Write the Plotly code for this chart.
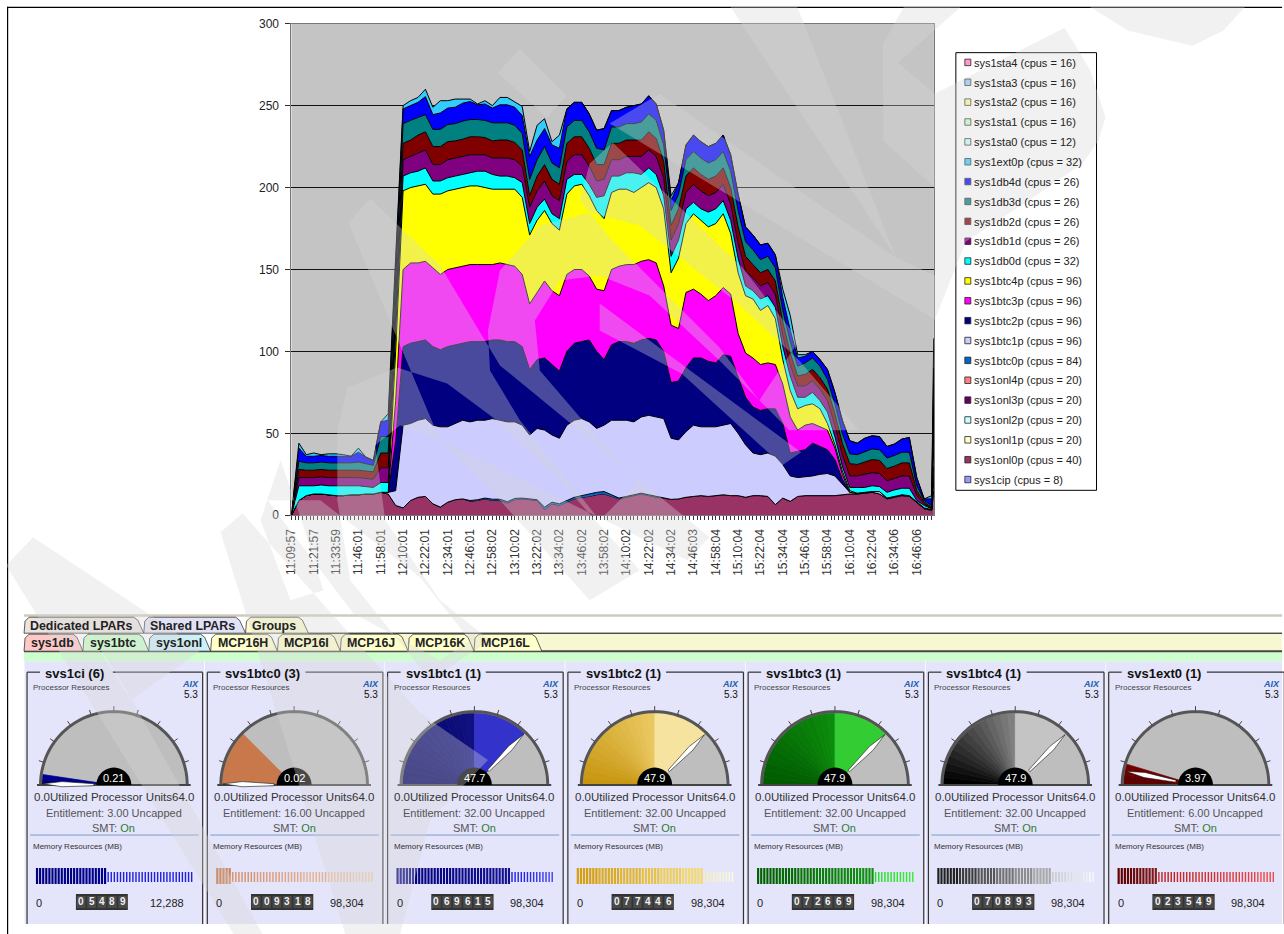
import numpy as np
import plotly.graph_objects as go

W, H = 1284, 934
FONT = "Liberation Sans"

# ---------- chart data ----------
tick_labels = ["11:09:57","11:21:57","11:33:59","11:46:01","11:58:01","12:10:01","12:22:01","12:34:01","12:46:01","12:58:02",
               "13:10:02","13:22:02","13:34:02","13:46:02","13:58:02","14:10:02","14:22:02","14:34:02","14:46:03","14:58:04",
               "15:10:04","15:22:04","15:34:04","15:46:04","15:58:04","16:10:04","16:22:04","16:34:06","16:46:06"]
sample_x = [i * 2 for i in range(87)] + [172.55]

top_onl0p = [0,9,12,13,13,12.5,12,12,12.5,12.5,
             13,13,14,13,6,4.5,9,11,11.5,7,
             5,8,9.5,10,8.5,9,10,9,9,7.5,
             9.5,10,9.5,9,3.5,7,6,8,10,11,
             11.5,12.5,13,11.5,10,11,12,13,12,11,
             10.5,9.7,10,11,11.5,12,11.5,12,12.5,12,
             12,11,12,12,11.5,6.5,10.5,8.5,11.5,12,
             12,12,12,12,12.5,13,13,13.5,14,13,
             10,11,12,11.5,8,4,3,15]
btc0p_values = [0,0,0,0,0,0,0,0,0,0,
                0,0,0,0,0,0,0,0,0,0,
                0,0,0,0,0.5,0.5,0.5,0.8,0.8,0.8,
                0.8,0.5,0.5,0.5,1.5,1,1,0.8,1,1,
                1.5,1.5,1.5,1,0.5,0.5,0.5,0.5,0.5,0.5,
                0,0,0,0,0,0,0,0,0,0,
                0,0,0,0,0,0,0,0,0,0,
                0,0,0,0,0,0,0,0,0,0,
                0,0,0,0,0,0,0,0]
top_btc1p = [0,0,0,0,0,0,0,0,0,0,
             0,0,0,14,15,55,56,58,59,55,
             54,54,56,58,57,58,58,59,58,57,
             57,55,49,53,52,49,47,55,58,59,
             57,53,55,58,58,58,57,60,61,60,
             59,47,46,51,55,54,54,54,55,56,
             50,43,38,37,38,36,31,24,23,23.5,
             24,25,25.5,24,19,14,13.5,14,14.5,14.5,
             10.5,11.5,12.5,12,8.5,4.5,3.5,20]
top_btc2p = [0,0,0,0,0,0,0,0,0,0,
             0,0,0,0,45,103,105,106,107,103,
             101,103,104,105,106,106,106,107,107,106,
             106,103,89,95,96,92,88,100,105,106,
             107,100,95,104,106,106,105,107,108,107,
             100,81,82,90,96,96,94,93,98,97,
             84,72,66,64,65,65,56,38,39,40,
             44,42,40,34,22,14,0,0,0,0,
             0,0,0,0,0,0,0,25]
top_btc3p = [0,0,0,0,0,0,0,0,0,0,
             0,0,0,0,70,150,154,154,155,151,
             147,150,151,152,153,153,153,153,154,153,
             152,147,129,136,143,137,134,147,150,150,
             146,138,137,150,152,153,153,155,156,154,
             140,116,114,136,138,135,131,134,139,135,
             111,99,96,92,93,92,80,60,52,55,
             56,54,52,41,25,14,0,0,0,0,
             0,0,0,0,0,0,0,30]
top_btc4p = [0,0,0,0,0,0,0,0,0,0,
             0,0,0,0,100,198,200,201,202,196,
             196,198,199,200,201,201,200,199,199,199,
             199,194,171,180,186,178,174,196,201,202,
             195,186,181,197,199,199,197,200,203,200,
             187,148,157,178,184,180,176,178,184,172,
             148,134,132,125,128,120,95,76,65,67,
             68,65,56,43,27,15,0,0,0,0,
             0,0,0,0,0,0,0,40]
top_db0d = [0,18,18,18,18.5,18,18,18,18,18,
            17.5,17,20,20,112,207,209,210,212,204,
            204,206,207,208,209,210,210,208,207,207,
            206,203,178,188,193,184,181,205,208,208,
            202,194,195,207,207,209,209,208,212,208,
            195,158,168,187,191,187,185,187,192,180,
            157,140,137,132,134,127,103,85,72,72,
            75,70,63,48,30,17,17,17,18,17.5,
            14,15.5,16.5,16.5,9,6,4,50]
db1d_values = [0,5,5,5,5,5,5,5,5,5,
               5,5,9,9,10,10,10,11,11,10,
               10,11,11,11,11,10,10,10,11,11,
               11,10,10,10,11,11,11,11,12,12,
               11,10,10,10,10,10,10,11,11,11,
               11,10,10,10,11,11,10,10,10,10,
               9,9,8,8,8,8,7,7,7,7,
               7,7,7,7,7,7,7,8,8,8,
               7,7,7.5,7.5,3,1,0,10]
db2d_values = [0,5,4.5,4.5,4.5,4.5,4.5,4.5,4.5,4.5,
               4.5,4.5,9,9,10,10,10,11,11,11,
               11,11,10.5,10.5,11,11,10.5,10.5,11,11,
               10.5,10,7,9,10,10,10,11,11,11,
               11,10,9,10,10,10,10,10,11,11,
               10,9,9,10,10,10,10,10,10,10,
               10,9,8,8,8,8,8,7,6,7,
               7,7,7,7,7,7.5,7,7.5,8,8,
               7.5,7.5,8,8,3,1,1,10]
db3d_values = [0,5,4.5,4.5,4.5,4.5,4.5,4.5,4.5,5,
               4.5,4,10,10,11,12,12,11,10.5,10.5,
               10.5,10.5,10.5,11,10.5,10.5,10.5,11,10.5,10.5,
               10.5,10,10,10,11,10,10,10,10,10,
               10,10,9,10,10,10,10,11,11,11,
               10,9,9,10,10,10,10,10,10,10,
               10,9,9,8,8,8,7,7,6,7,
               7,7,6,6,6,6,6,6.5,6.5,6.5,
               6.5,6.5,6.5,6.5,3,1,1,10]
db4d_values = [0,8,4,4,4,4,4,4,4,6,
               4,3,9,10,15,9,9,9,11,9,
               10,10,10,11,11,9,10,9,11,11,
               11,11,14,12,11,11,12,11,11,11,
               11,11,13,10,10,10,11,11,11,10,
               9,6,7,9,10,10,10,10,10,10,
               10,9,9,9,8,8,8,7,5,4,
               4,4,6,7,8,8,7,8,8,8,
               7,7,8,9,5,1,4,10]
top_total = [0,44,37,38,37,37.5,37.5,37,35,41,
             34,32,57,62,150,250,253,255,260,249,
             253,253,254,254,254,251,253,250,255,255,
             252,249.5,222,238,242,228,232,247,249,252,
             243,230,225,243,246,245,241,250,252,251,
             235,195,198,219,225,220,219,221,224,215,
             194,168,166,155,157,157,138,122,98,98,
             99,94,87,70,50,39,38,40,44,42,
             37,37,45,46,22,10,12,108]
zero_values = [0] * 88

series_names = ["sys1sta4 (cpus = 16)","sys1sta3 (cpus = 16)","sys1sta2 (cpus = 16)","sys1sta1 (cpus = 16)","sys1sta0 (cpus = 12)",
                "sys1ext0p (cpus = 32)","sys1db4d (cpus = 26)","sys1db3d (cpus = 26)","sys1db2d (cpus = 26)","sys1db1d (cpus = 26)",
                "sys1db0d (cpus = 32)","sys1btc4p (cpus = 96)","sys1btc3p (cpus = 96)","sys1btc2p (cpus = 96)","sys1btc1p (cpus = 96)",
                "sys1btc0p (cpus = 84)","sys1onl4p (cpus = 20)","sys1onl3p (cpus = 20)","sys1onl2p (cpus = 20)","sys1onl1p (cpus = 20)",
                "sys1onl0p (cpus = 40)","sys1cip (cpus = 8)"]
series_colors = ["#FF99CC","#99CCFF","#FFFF99","#CCFFCC","#CCFFFF","#33CCFF","#0000FF","#008080","#800000","#800080",
                 "#00FFFF","#FFFF00","#FF00FF","#000080","#CCCCFF","#0066CC","#FF8080","#660066","#CCFFFF","#FFFFCC",
                 "#993366","#9999FF"]

# ---------- gauge card data ----------
card_names = ["svs1ci (6)","svs1btc0 (3)","svs1btc1 (1)","svs1btc2 (1)","svs1btc3 (1)","svs1btc4 (1)","svs1ext0 (1)"]
card_used = [0.21,0.02,47.7,47.9,47.9,47.9,3.97]
card_entitlement = [3.00,16.00,32.00,32.00,32.00,32.00,6.00]
card_mem = [5489,9318,69615,77446,72669,70893,23549]
card_mem_max = [12288,98304,98304,98304,98304,98304,98304]
card_counter = ["05489","009318","069615","077446","072669","070893","023549"]
card_dark = [("#000070","#000090"),("#C8784A","#C8784A"),("#000060","#101080"),("#C89610","#EAC860"),("#005A00","#0C8C0C"),("#000000","#808080"),("#600000","#700000")]
card_light = ["#2020E0","#C8784A","#3333CC","#F6E3A0","#33CC33","#C4C4C4","#700000"]
card_bar_on = [("#000080","#000090"),("#C06838","#D08858"),("#000080","#101090"),("#D4A010","#F2D870"),("#006000","#109010"),("#202020","#A8A8A8"),("#600000","#801818")]
card_bar_off = [("#2020E0","#2020E0"),("#D89068","#F0C8A8"),("#2020E0","#4040F0"),("#F6EDB0","#FFFBE0"),("#20E020","#30F030"),("#C8C8C8","#FAFAFA"),("#C02020","#F04848")]

tabs_row1 = ["Dedicated LPARs","Shared LPARs","Groups"]
tabs_row1_x = [23,143,245,308]
tabs_row1_fill = ["#ECE4E0","#E2E2F6","#FCFCD0"]
tabs_row2 = ["sys1db","sys1btc","sys1onl","MCP16H","MCP16I","MCP16J","MCP16K","MCP16L"]
tabs_row2_x = [23,82,148,210,277,340,408,474,542]
tabs_row2_fill = ["#FFC8C8","#CCFFCC","#CCF0F8","#FFFFCC","#FFFFCC","#FFFFCC","#FFFFCC","#FFFFCC"]

# ---------- watermark outline (page pixels) ----------
watermark = [
    [(32,537),(5,565),(233,934),(262,934),(120,680),(68,602)],
    [(32,537),(147,613),(200,650),(130,700),(68,602)],
    [(242,513),(420,713),(488,760),(430,820),(400,934),(345,934),(220,532)],
    [(267,500),(320,500),(420,577),(470,640),(440,660),(353,613)],
    [(337,430),(347,387),(397,367),(447,383),(493,417),(560,480),(640,570),(590,600),(500,500),(440,440),(400,425),(375,445),(385,520),(440,600),(490,640),(430,680),(350,580),(337,500)],
    [(280,460),(300,517),(323,590),(290,600),(260,520)],
    [(488,330),(500,270),(540,225),(590,212),(640,225),(735,300),(800,360),(860,430),(790,430),(720,360),(650,295),(600,275),(560,280),(535,320),(540,370),(600,440),(640,480),(600,520),(520,420),(490,370)],
    [(370,198),(440,265),(500,365),(710,537),(688,560),(440,440),(348,222)],
    [(600,303),(650,340),(802,452),(783,465),(682,373),(600,330)],
    [(520,48),(567,95),(547,117),(498,72)],
    [(590,163),(613,142),(743,267),(800,340),(760,400),(720,347),(610,237),(580,200)],
    [(660,93),(897,257),(936,275),(936,319),(610,123)],
    [(731,6),(798,6),(897,257)],
    [(905,6),(962,6),(899,62),(936,93),(936,187),(884,140),(884,43)],
    [(936,93),(1066,27),(1092,70),(1107,117),(1100,140),(1084,163),(1030,200),(967,241),(936,319)],
    [(1091,6),(1130,30),(1194,45),(1225,30),(1247,6)],
]

# ---------- helpers ----------
# the page draws the figure with a small inset; these undo it so page pixels land where they should
def fx(x):
    return (x - 5.9) / 0.9969 / W

def fy(y):
    return 1 - (y - 6.3) / 0.9858 / H

def pt(x, y):
    return f"{fx(x):.5f},{fy(y):.5f}"

def poly_path(points, close=True):
    return "M " + " L ".join(pt(x, y) for x, y in points) + (" Z" if close else "")

shapes, notes = [], []

def add_poly(points, fill=None, line=None, width=0, close=True, layer="above"):
    d = dict(type="path", xref="paper", yref="paper", layer=layer, path=poly_path(points, close), line=dict(width=width, color=line or "rgba(0,0,0,0)"))
    if fill:
        d["fillcolor"] = fill
    shapes.append(d)

def add_rect(x0, y0, x1, y1, fill=None, line=None, width=0, layer="above"):
    add_poly([(x0,y0),(x1,y0),(x1,y1),(x0,y1)], fill, line, width, True, layer)

def add_line(x0, y0, x1, y1, color, width=1, layer="above"):
    add_poly([(x0,y0),(x1,y1)], None, color, width, False, layer)

def add_text(x, y, text, size=11, color="#222222", anchor="center", bold=False, italic=False, family=FONT):
    if bold:
        text = f"<b>{text}</b>"
    if italic:
        text = f"<i>{text}</i>"
    notes.append(dict(xref="paper", yref="paper", x=fx(x), y=fy(y), text=text, showarrow=False, xanchor=anchor, yanchor="middle",
                      font=dict(family=family, size=size, color=color), borderpad=0, borderwidth=0))

def mix(c0, c1, t):
    a = [int(c0[i:i+2], 16) for i in (1,3,5)]
    b = [int(c1[i:i+2], 16) for i in (1,3,5)]
    return "#" + "".join(f"{round(u+(v-u)*t):02X}" for u, v in zip(a, b))

def polar(cx, cy, r, deg):
    a = np.radians(deg)
    return (cx - r*np.cos(a), cy - r*np.sin(a))

def wedge(cx, cy, r, d0, d1, n=None):
    n = n or max(2, int(abs(d1-d0)/3)+1)
    return [(cx,cy)] + [polar(cx,cy,r,d) for d in np.linspace(d0,d1,n)]

def signed_area(p):
    return sum(p[i][0]*p[(i+1)%len(p)][1] - p[(i+1)%len(p)][0]*p[i][1] for i in range(len(p)))

# ---------- stacked series ----------
tops = np.array([top_onl0p, top_btc1p, top_btc2p, top_btc3p, top_btc4p, top_db0d], dtype=float)
tops = np.maximum.accumulate(tops, axis=0)
onl0p = tops[0]
btc0p = np.array(btc0p_values, dtype=float)
btc1p = np.maximum(tops[1] - tops[0] - btc0p, 0)
btc2p = np.maximum(tops[2] - np.maximum(tops[1], tops[0] + btc0p), 0)
btc3p = tops[3] - tops[2]
btc4p = tops[4] - tops[3]
db0d = tops[5] - tops[4]
stack_below = tops[5] + np.array(db1d_values) + np.array(db2d_values) + np.array(db3d_values) + np.array(db4d_values)
ext0p = np.maximum(np.array(top_total, dtype=float) - stack_below, 0)

series_values = {
    "sys1cip (cpus = 8)": zero_values,
    "sys1onl0p (cpus = 40)": onl0p,
    "sys1onl1p (cpus = 20)": zero_values,
    "sys1onl2p (cpus = 20)": zero_values,
    "sys1onl3p (cpus = 20)": zero_values,
    "sys1onl4p (cpus = 20)": zero_values,
    "sys1btc0p (cpus = 84)": btc0p,
    "sys1btc1p (cpus = 96)": btc1p,
    "sys1btc2p (cpus = 96)": btc2p,
    "sys1btc3p (cpus = 96)": btc3p,
    "sys1btc4p (cpus = 96)": btc4p,
    "sys1db0d (cpus = 32)": db0d,
    "sys1db1d (cpus = 26)": db1d_values,
    "sys1db2d (cpus = 26)": db2d_values,
    "sys1db3d (cpus = 26)": db3d_values,
    "sys1db4d (cpus = 26)": db4d_values,
    "sys1ext0p (cpus = 32)": ext0p,
    "sys1sta0 (cpus = 12)": zero_values,
    "sys1sta1 (cpus = 16)": zero_values,
    "sys1sta2 (cpus = 16)": zero_values,
    "sys1sta3 (cpus = 16)": zero_values,
    "sys1sta4 (cpus = 16)": zero_values,
}
color_of = dict(zip(series_names, series_colors))

fig = go.Figure()
for name, vals in series_values.items():
    is_zero = vals is zero_values
    fig.add_trace(go.Scatter(x=sample_x, y=list(vals), name=name, mode="lines", stackgroup="one",
                             fillcolor=color_of[name], line=dict(color="#000000", width=0 if is_zero else 1, shape="linear"),
                             showlegend=False, hoverinfo="skip"))

# ---------- page frame ----------
add_line(6.5, 6, 6.5, 934, "#000000", 1.2)
add_line(6, 6.6, 1284, 6.6, "#000000", 1.2)

# ---------- legend ----------
add_rect(957, 52, 1098, 490, "#FFFFFF", "#000000", 1)
for i, (nm, col) in enumerate(zip(series_names, series_colors)):
    y = 62 + i * 19.88
    add_rect(966, y-3.5, 972, y+3, col, "#222222", 0.8)
    add_text(975, y, nm, size=11, color="#222222", anchor="left")

# ---------- tabs ----------
add_rect(23, 614, W, 616.5, "#CFCBBB")
add_rect(308, 633, W, 651, "#F7F7D2")
add_line(308, 633, W, 633, "#000000", 1)
add_rect(23, 652, W, 661, "#CCFFCC")
add_line(23, 651, W, 651, "#444444", 2)

def tab(x0, x1, y0, y1, fill):
    add_poly([(x0,y1),(x0+1,y0+4),(x0+5,y0),(x1-10,y0),(x1-6,y0+3),(x1,y1)], fill, "#333333", 0.8)

for i, t in enumerate(tabs_row1):
    tab(tabs_row1_x[i], tabs_row1_x[i+1], 617, 633, tabs_row1_fill[i])
    add_text(tabs_row1_x[i]+6, 626, t, size=12.4, color="#222222", anchor="left", bold=True)
for i, t in enumerate(tabs_row2):
    tab(tabs_row2_x[i], tabs_row2_x[i+1], 634, 651, tabs_row2_fill[i])
    add_text(tabs_row2_x[i]+7, 642.5, t, size=12.4, color="#222222", anchor="left", bold=True)

# ---------- gauge cards ----------
pitch = 180.7
for i, nm in enumerate(card_names):
    fx0 = 26 + pitch * i
    fx1 = min(fx0 + 176, W + 4)
    cx = fx0 + 87
    cy = 785
    add_rect(fx0-2.5, 661, min(fx0+177.5, W), 924, "#E4E4FA")
    title_w = 6.2 * len(nm)
    add_line(fx0, 924, fx0, 672, "#333333", 1.2)
    add_line(fx0, 672, fx0+13, 672, "#333333", 1.2)
    add_line(fx0+19+title_w+5, 672, fx1, 672, "#333333", 1.2)
    add_line(fx1, 672, fx1, 924, "#333333", 1.2)
    add_text(fx0+18, 673, nm, size=13, color="#111111", anchor="left", bold=True)
    add_text(fx0+6, 687, "Processor Resources", size=8, color="#444444", anchor="left")
    add_text(fx1-4, 684, "AIX", size=9, color="#2060B0", anchor="right", bold=True, italic=True)
    add_text(fx1-5, 694, "5.3", size=10, color="#111111", anchor="right")

    # gauge: angles come from the 0-64 scale
    used_deg = card_used[i] / 64 * 180
    ent_deg = card_entitlement[i] / 64 * 180
    add_poly(wedge(cx, cy, 72, 0, 180, 61), "#BEBEBE")
    slices = max(2, int(ent_deg / 6))
    edges = np.linspace(0, ent_deg, slices + 1)
    for s in range(slices):
        c = mix(card_dark[i][0], card_dark[i][1], s / max(1, slices-1))
        add_poly(wedge(cx, cy, 72, edges[s], edges[s+1]), c, c, 0.7)
    if used_deg > ent_deg:
        add_poly(wedge(cx, cy, 72, ent_deg, used_deg), card_light[i], card_light[i], 0.5)
    add_poly([polar(cx, cy, 73.5, d) for d in np.linspace(0, 180, 61)], None, "#555555", 3, False)
    for d in range(18, 180, 18):
        a = polar(cx, cy, 74, d); b = polar(cx, cy, 79, d)
        add_line(a[0], a[1], b[0], b[1], "#444444", 1)
    add_line(cx-77, cy, cx+77, cy, "#444444", 2)
    nd = max(used_deg, 1.0)
    tip = polar(cx, cy, 71, nd)
    ua = np.radians(nd)
    ux, uy = -np.cos(ua), -np.sin(ua)
    nx, ny = -uy, ux
    pts = [tip]
    for r, w in [(52, 2.6), (20, 1.0)]:
        pts.append((cx+ux*r+nx*w, cy+uy*r+ny*w))
    for r, w in [(20, 1.0), (52, 2.6)]:
        pts.append((cx+ux*r-nx*w, cy+uy*r-ny*w))
    add_poly(pts, "#FFFFFF", "#111111", 0.6)
    add_poly(wedge(cx, cy, 17.5, 0, 180, 25), "#000000")
    add_text(cx, 778, f"{card_used[i]:g}", size=11, color="#FFFFFF")

    add_text(cx, 797, "0.0Utilized Processor Units64.0", size=11.5, color="#333333")
    add_text(cx, 813, f"Entitlement: {card_entitlement[i]:.2f} Uncapped", size=11, color="#555555")
    add_text(cx, 828, 'SMT: <span style="color:#2E7D32">On</span>', size=11, color="#555555")
    add_line(fx0+3, 835, fx1-4, 835, "#7A9CC8", 1)
    add_text(fx0+6, 846, "Memory Resources (MB)", size=8, color="#333333", anchor="left")

    # memory stripes: the filled share comes from memory value / maximum
    bx0, bx1 = fx0+10, fx0+168
    frac = card_mem[i] / card_mem_max[i]
    split = bx0 + (bx1-bx0) * frac
    xs = np.arange(bx0, bx1, 3.1)
    buckets = 6
    for b in range(buckets):
        on_d, off_d = [], []
        for x in xs:
            if x <= split:
                t = (x-bx0)/max(split-bx0, 1)
                if min(int(t*buckets), buckets-1) == b:
                    on_d.append(f"M {pt(x,868)} L {pt(x,884)}")
            else:
                t = (x-split)/max(bx1-split, 1)
                if min(int(t*buckets), buckets-1) == b:
                    off_d.append(f"M {pt(x,872)} L {pt(x,882)}")
        if on_d:
            shapes.append(dict(type="path", xref="paper", yref="paper", layer="above", path=" ".join(on_d),
                               line=dict(color=mix(card_bar_on[i][0], card_bar_on[i][1], b/(buckets-1)), width=2.2)))
        if off_d:
            shapes.append(dict(type="path", xref="paper", yref="paper", layer="above", path=" ".join(off_d),
                               line=dict(color=mix(card_bar_off[i][0], card_bar_off[i][1], b/(buckets-1)), width=1.4)))

    add_text(fx0+12, 903, "0", size=11, color="#222222")
    add_text(fx0+140, 903, f"{card_mem_max[i]:,}", size=11, color="#222222")
    digits = card_counter[i]
    cw = 10.4
    bw = cw * len(digits)
    ccx = fx0 + 75
    add_rect(ccx-bw/2, 894, ccx+bw/2, 910, "#333333")
    for j, ch in enumerate(digits):
        x0 = ccx - bw/2 + j*cw
        add_rect(x0+0.8, 896, x0+cw-0.8, 908, "#4A4A4A")
        add_text(x0+cw/2, 902, ch, size=10, color="#F0F0F0", bold=True)

# ---------- watermark: one path, same winding, so overlaps do not darken ----------
wm_parts = []
for poly in watermark:
    p = poly if signed_area(poly) > 0 else poly[::-1]
    wm_parts.append(poly_path(p))
shapes.append(dict(type="path", xref="paper", yref="paper", layer="above", path=" ".join(wm_parts),
                   fillcolor="rgba(215,215,215,0.34)", line=dict(width=0)))

xa_tick = list(range(0, 169, 6))
fig.update_layout(
    width=W, height=H, autosize=False,
    margin=dict(l=0, r=0, t=0, b=0, pad=0),
    paper_bgcolor="#FFFFFF", plot_bgcolor="#C4C4C4",
    showlegend=False,
    font=dict(family=FONT, size=11, color="#222222"),
    xaxis=dict(domain=[fx(291), fx(935)], range=[0, 172.6], tickmode="array", tickvals=xa_tick, ticktext=tick_labels,
               tickangle=-90, ticks="outside", ticklen=4, tickcolor="#333333", showgrid=False, zeroline=False,
               showline=True, linecolor="#777777", linewidth=1, mirror=True, ticklabelstandoff=4,
               tickfont=dict(family=FONT, size=12, color="#333333"),
               minor=dict(ticks="outside", ticklen=4, dtick=1, tickcolor="#333333", showgrid=False)),
    yaxis=dict(domain=[fy(515), fy(23)], range=[0, 300], tickmode="array", tickvals=[0,50,100,150,200,250,300],
               ticks="outside", ticklen=5, tickcolor="#333333", showgrid=True, gridcolor="#111111", gridwidth=1, zeroline=False,
               showline=True, linecolor="#777777", linewidth=1, mirror=True, ticklabelstandoff=4,
               tickfont=dict(family=FONT, size=12, color="#222222")),
    shapes=shapes, annotations=notes,
)
fig.write_html("out.html", post_script="document.body.style.margin='0';", config=dict(displayModeBar=False))
